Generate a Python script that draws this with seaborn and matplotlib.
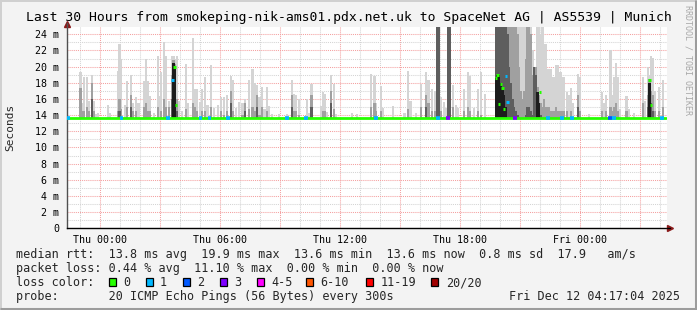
import numpy as np
import pandas as pd
import matplotlib
matplotlib.use("Agg")
import matplotlib.pyplot as plt
import seaborn as sns
from matplotlib.lines import Line2D
from matplotlib.patches import Rectangle
from matplotlib.ticker import MultipleLocator, FuncFormatter

# ---------------- data (hours relative to Thu 00:00, values in ms) ----------------
smoke_h = [-0.98, -0.90, -0.80, -0.65, -0.55, -0.42, -0.32, -0.20, -0.10, 0.38, 0.50, 0.88, 0.97, 1.05,
           1.23, 1.35, 1.55, 1.65, 1.80, 1.92, 2.18, 2.28, 2.37, 2.47, 2.70, 2.88, 2.97, 3.05, 3.18, 3.27,
           3.45, 3.58, 3.67, 3.75, 3.83, 3.95, 4.08, 4.30, 4.40, 4.65, 4.75, 4.85, 5.00, 5.10, 5.25, 5.37,
           5.54, 5.70, 5.88, 6.05, 6.20, 6.33, 6.53, 6.63, 6.78, 6.94, 7.12, 7.25, 7.45, 7.62, 7.73, 7.85,
           7.97, 8.08, 8.22, 8.35, 8.42, 8.60, 8.95, 9.35, 9.58, 9.70, 9.80, 9.93, 10.35, 10.45, 10.57,
           11.03, 11.13, 11.23, 11.33, 11.53, 11.68, 11.80, 12.60, 12.85, 13.55, 13.72, 13.80, 14.03, 14.13,
           14.63, 15.22, 15.40, 15.52, 15.78, 16.04, 16.28, 16.42, 16.58, 16.73, 16.83, 16.92, 17.05, 17.18,
           17.27, 17.40, 17.50, 17.65, 17.80, 17.90, 18.18, 18.38, 18.50, 18.68, 18.88, 19.03, 19.25,
           19.79, 19.87, 19.96, 20.04, 20.12, 20.21, 20.29, 20.37, 20.46, 20.54, 20.62, 20.71, 20.79, 20.87,
           20.96, 21.04, 21.12, 21.21, 21.29, 21.37, 21.46, 21.54, 21.62, 21.71, 21.79, 21.87, 21.96, 22.04,
           22.12, 22.21, 22.29, 22.37, 22.46, 22.54, 22.62, 22.71, 22.79, 22.87, 22.96, 23.04, 23.12, 23.21,
           23.33, 23.42, 23.55, 23.65, 23.90, 24.00, 24.45, 25.10, 25.20, 25.30, 25.52, 25.62, 25.72, 25.80,
           25.90, 26.00, 26.32, 26.42, 26.68, 27.15, 27.25, 27.38, 27.47, 27.55, 27.65, 27.75, 27.93, 28.15]
smoke_top = [19.3, 15.5, 18.7, 18.7, 15.8, 19.0, 15.8, 14.2, 14.3, 15.2, 14.3, 19.5, 22.8, 21.0,
             15.3, 18.2, 19.0, 15.5, 16.3, 15.5, 18.2, 20.9, 18.2, 16.4, 14.3, 21.3, 16.4, 19.3, 23.0, 21.3,
             15.8, 21.3, 21.3, 21.0, 21.3, 15.8, 14.5, 20.3, 15.5, 23.6, 17.2, 17.2, 15.6, 17.2, 18.7, 15.3,
             20.2, 14.9, 15.3, 16.3, 16.3, 16.5, 18.9, 18.4, 14.9, 15.6, 15.5, 16.0, 18.4, 19.7, 18.0, 17.7,
             16.3, 17.5, 14.7, 17.5, 15.1, 14.2, 14.2, 14.2, 18.3, 16.6, 16.5, 16.0, 16.0, 14.3, 17.9,
             15.1, 16.8, 16.6, 14.4, 19.0, 17.8, 14.2, 14.3, 14.2, 19.1, 18.9, 15.5, 17.6, 14.9,
             15.1, 14.3, 19.5, 15.8, 14.3, 17.8, 19.3, 18.4, 17.2, 17.0, 26.0, 26.0, 16.3, 15.6,
             14.9, 26.0, 26.0, 17.7, 15.3, 14.9, 17.2, 19.3, 18.9, 14.9, 17.2, 19.3, 16.6,
             26.0, 26.0, 26.0, 26.0, 26.0, 26.0, 26.0, 26.0, 26.0, 26.0, 26.0, 26.0, 26.0, 26.0,
             26.0, 26.0, 26.0, 26.0, 26.0, 26.0, 26.0, 26.0, 22.0, 19.9, 19.9, 26.0, 26.0, 24.0,
             26.0, 22.8, 22.8, 19.7, 19.7, 19.7, 18.7, 18.7, 20.2, 20.2, 19.3, 19.3, 18.7, 18.7,
             16.8, 16.5, 17.4, 15.5, 19.1, 18.7, 14.2, 16.8, 15.5, 16.5, 22.0, 16.5, 18.7, 20.4,
             18.7, 14.8, 16.4, 14.8, 14.3, 18.7, 15.8, 20.0, 19.0, 21.3, 21.1, 17.0, 17.5, 18.4]
smoke_mid = [17.4, 14.5, 14.5, 15.0, 14.5, 18.0, 14.5, 13.5, 13.5, 13.5, 13.5, 14.5, 16.0, 14.8,
             13.5, 15.0, 16.5, 14.5, 14.5, 13.5, 15.0, 15.5, 14.5, 14.5, 13.5, 15.0, 13.5, 14.5, 16.0, 15.0,
             15.0, 19.0, 20.8, 20.3, 16.0, 13.5, 13.5, 14.8, 13.5, 15.5, 15.0, 14.5, 13.5, 14.5, 14.5, 13.5,
             15.0, 13.5, 13.5, 14.5, 14.0, 14.5, 17.0, 14.5, 13.5, 13.5, 14.0, 15.5, 14.7, 15.0, 14.5, 16.5,
             14.0, 15.0, 13.5, 14.5, 13.5, 13.5, 13.5, 13.5, 16.5, 14.5, 14.5, 14.0, 13.5, 13.5, 16.5,
             13.5, 14.5, 14.5, 13.5, 17.0, 14.8, 13.5, 13.5, 13.5, 15.0, 15.5, 14.5, 14.5, 13.5,
             13.5, 13.5, 14.7, 13.5, 13.5, 15.0, 16.5, 15.5, 14.5, 14.5, 26.0, 26.0, 14.5, 13.5,
             13.5, 26.0, 26.0, 15.0, 13.5, 13.5, 14.5, 15.0, 14.5, 13.5, 14.5, 14.0, 13.5,
             26.0, 26.0, 26.0, 26.0, 26.0, 26.0, 26.0, 26.0, 26.0, 26.0, 26.0, 26.0, 26.0, 24.0,
             20.0, 17.0, 16.0, 17.0, 21.0, 26.0, 26.0, 24.0, 19.0, 19.9, 19.9, 17.5, 16.5, 15.5,
             15.0, 16.0, 15.0, 15.0, 15.0, 14.5, 14.5, 14.5, 15.0, 14.5, 14.5, 14.5, 14.5, 14.5,
             14.5, 13.5, 14.5, 13.5, 16.5, 14.5, 13.5, 14.5, 13.5, 14.5, 15.0, 14.5, 15.0, 15.5,
             14.5, 13.5, 14.5, 13.5, 13.5, 15.5, 13.5, 16.5, 18.5, 17.0, 16.5, 14.5, 14.5, 15.0]
smoke_core = [13.5, 13.5, 13.5, 13.5, 13.5, 16.0, 13.5, 13.5, 13.5, 13.5, 13.5, 13.5, 14.5, 13.5,
              13.5, 13.5, 15.0, 13.5, 13.5, 13.5, 13.5, 13.5, 13.5, 13.5, 13.5, 13.5, 13.5, 13.5, 13.5, 13.5,
              13.5, 16.0, 20.5, 20.0, 14.5, 13.5, 13.5, 13.5, 13.5, 13.5, 13.5, 13.5, 13.5, 13.5, 13.5, 13.5,
              13.5, 13.5, 13.5, 13.5, 13.5, 13.5, 15.5, 13.5, 13.5, 13.5, 13.5, 14.5, 13.5, 13.5, 13.5, 15.0,
              13.5, 13.5, 13.5, 13.5, 13.5, 13.5, 13.5, 13.5, 15.0, 13.5, 13.5, 13.5, 13.5, 13.5, 15.0,
              13.5, 13.5, 13.5, 13.5, 15.5, 13.5, 13.5, 13.5, 13.5, 13.5, 13.5, 13.5, 13.5, 13.5,
              13.5, 13.5, 13.5, 13.5, 13.5, 13.5, 15.0, 13.5, 13.5, 13.5, 26.0, 26.0, 13.5, 13.5,
              13.5, 26.0, 26.0, 13.5, 13.5, 13.5, 13.5, 13.5, 13.5, 13.5, 13.5, 13.5, 13.5,
              26.0, 26.0, 26.0, 26.0, 26.0, 26.0, 26.0, 24.0, 20.0, 18.0, 16.0, 15.0, 14.5, 14.0,
              13.5, 13.5, 13.5, 13.5, 14.0, 15.0, 15.0, 14.5, 14.0, 19.9, 19.0, 16.8, 15.5, 14.0,
              13.5, 13.5, 13.5, 13.5, 13.5, 13.5, 13.5, 13.5, 13.5, 13.5, 13.5, 13.5, 13.5, 13.5,
              13.5, 13.5, 13.5, 13.5, 15.0, 13.5, 13.5, 13.5, 13.5, 13.5, 13.5, 13.5, 13.5, 13.5,
              13.5, 13.5, 13.5, 13.5, 13.5, 13.5, 13.5, 15.0, 18.0, 15.5, 14.5, 13.5, 13.5, 13.5]
black_h = [3.67, 3.75, 19.79, 19.87, 19.96, 20.04, 20.12, 20.21, 20.29, 21.87, 21.96, 27.47]
black_top = [20.5, 20.0, 18.6, 19.0, 19.0, 18.0, 17.5, 16.5, 15.0, 16.8, 15.5, 18.0]
smoke_base = 13.5

median_span_h = [-1.65, 28.30]
median_base = [13.7, 13.7]
med_h = [3.63, 3.72, 3.80, 19.79, 19.87, 19.96, 20.04, 20.12, 20.21, 20.29, 20.37, 22.00, 27.47, 27.55]
med_ms = [18.4, 19.9, 15.2, 18.6, 19.0, 15.4, 17.9, 17.4, 14.7, 18.9, 15.6, 16.9, 18.4, 15.3]
med_loss = [1, 0, 0, 0, 0, 0, 0, 0, 0, 1, 1, 0, 0, 0]
loss_h = [-1.60, 1.08, 3.40, 5.03, 5.47, 6.40, 9.35, 10.30, 13.80, 16.90, 17.40, 20.75, 22.40,
          23.10, 23.60, 25.50, 25.70, 28.10]
loss_n = [1, 1, 1, 1, 1, 1, 1, 1, 1, 1, 3, 3, 1, 1, 1, 2, 1, 1]

x_tick_h = [0, 6, 12, 18, 24]
x_tick_labels = ["Thu 00:00", "Thu 06:00", "Thu 12:00", "Thu 18:00", "Fri 00:00"]
loss_labels = ["0", "1", "2", "3", "4-5", "6-10", "11-19", "20/20"]
loss_colors = ["#26ff00", "#00b8ff", "#0059ff", "#7e00ff", "#ff00ff", "#ff5500", "#ff0000", "#a10000"]

title = "Last 30 Hours from smokeping-nik-ams01.pdx.net.uk to SpaceNet AG | AS5539 | Munich"
line_rtt = "median rtt:  13.8 ms avg  19.9 ms max  13.6 ms min  13.6 ms now  0.8 ms sd  17.9   am/s"
line_loss = "packet loss: 0.44 % avg  11.10 % max  0.00 % min  0.00 % now"
probe_txt = "probe:       20 ICMP Echo Pings (56 Bytes) every 300s"
date_txt = "Fri Dec 12 04:17:04 2025"


def loss_color(n):
    if n <= 3:
        return loss_colors[n]
    if n <= 5:
        return loss_colors[4]
    if n <= 10:
        return loss_colors[5]
    if n <= 19:
        return loss_colors[6]
    return loss_colors[7]


# ---------------- figure ----------------
sns.set_style("white")
plt.rcParams["font.family"] = ["DejaVu Sans Mono"]

W, H = 697, 310
fig = plt.figure(figsize=(W / 100, H / 100), dpi=100, facecolor="#f3f3f3")
ax_l, ax_r, ax_t, ax_b = 67, 667, 27, 228.3
ax = fig.add_axes([ax_l / W, 1 - ax_b / H, (ax_r - ax_l) / W, (ax_b - ax_t) / H])
ax.set_facecolor("white")

XMIN, XMAX, YMIN, YMAX = -1.65, 28.35, 0, 24.9
ax.set_xlim(XMIN, XMAX)
ax.set_ylim(YMIN, YMAX)

# grid
ax.xaxis.set_major_locator(MultipleLocator(3))
ax.xaxis.set_minor_locator(MultipleLocator(1))
ax.yaxis.set_major_locator(MultipleLocator(2))
ax.yaxis.set_minor_locator(MultipleLocator(1))
ax.grid(which="minor", color="#d4d4d4", ls=(0, (1, 1)), lw=0.75, zorder=0)
ax.grid(which="major", color="#f4a0a0", ls=(0, (1, 1)), lw=0.75, zorder=0)
ax.set_axisbelow(True)

# smoke
df = pd.DataFrame({"h": smoke_h, "top": smoke_top, "mid": smoke_mid, "core": smoke_core})
bw = 0.11
ax.bar(df["h"], df["top"] - smoke_base, bottom=smoke_base, width=bw, color="#d4d4d4", lw=0, zorder=2)
ax.bar(df["h"], df["mid"] - smoke_base, bottom=smoke_base, width=bw, color="#a0a0a0", lw=0, zorder=3)
ax.bar(df["h"], df["core"] - smoke_base, bottom=smoke_base, width=bw, color="#5e5e5e", lw=0, zorder=4)
ax.bar(black_h, np.array(black_top) - smoke_base, bottom=smoke_base, width=bw, color="#1c1c1c", lw=0, zorder=5)

# median line
sns.lineplot(x=median_span_h, y=median_base, color=loss_colors[0], lw=2.0, ax=ax, zorder=6, legend=False)
ax.hlines(med_ms, np.array(med_h) - 0.06, np.array(med_h) + 0.06,
          colors=[loss_color(n) for n in med_loss], lw=2.2, zorder=7)
ax.hlines([median_base[0]] * len(loss_h), np.array(loss_h) - 0.09, np.array(loss_h) + 0.09,
          colors=[loss_color(n) for n in loss_n], lw=2.6, zorder=7)

# spines / ticks
for s in ["top", "right"]:
    ax.spines[s].set_visible(False)
ax.spines["left"].set_color("#505050")
ax.spines["bottom"].set_color("#000000")
ax.spines["left"].set_linewidth(1.0)
ax.spines["bottom"].set_linewidth(1.0)

ax.xaxis.set_major_formatter(FuncFormatter(
    lambda v, p: x_tick_labels[x_tick_h.index(int(round(v)))] if int(round(v)) in x_tick_h else ""))
ax.yaxis.set_major_formatter(FuncFormatter(lambda v, p: "0" if abs(v) < 1e-9 else f"{int(round(v))} m"))
ax.tick_params(axis="x", which="major", length=2, width=0.75, color="#f08080", pad=2.5,
               labelsize=7.2, labelcolor="#000000")
ax.tick_params(axis="y", which="major", length=2, width=0.75, color="#f08080", pad=3.6,
               labelsize=7.2, labelcolor="#000000")
ax.tick_params(which="minor", length=0)

# arrows
fig.add_artist(Line2D([ax_l / W], [1 - 23.5 / H], marker="^", ms=5, color="#8b1a1a", ls="none",
                      transform=fig.transFigure))
fig.add_artist(Line2D([670 / W], [1 - ax_b / H], marker=">", ms=5, color="#8b1a1a", ls="none",
                      transform=fig.transFigure))
fig.add_artist(Line2D([ax_l / W, ax_l / W], [1 - ax_t / H, 1 - 23 / H], color="#505050", lw=1.0,
                      transform=fig.transFigure))
fig.add_artist(Line2D([ax_r / W, 670 / W], [1 - ax_b / H, 1 - ax_b / H], color="#000000", lw=1.0,
                      transform=fig.transFigure))

# texts
fs_leg = 8.48
fig.text(0.5, 1 - 18 / H, title, ha="center", va="center", fontsize=9.45, color="#000000")
fig.text(10 / W, 1 - 127.5 / H, "Seconds", rotation=90, ha="center", va="center", fontsize=8.0)
fig.text(688 / W, 1 - 60 / H, "RRDTOOL / TOBI OETIKER", rotation=270, ha="center", va="center",
         fontsize=6.0, color="#a8a8a8")
fig.text(16 / W, 1 - 258 / H, line_rtt, ha="left", va="baseline", fontsize=fs_leg)
fig.text(16 / W, 1 - 272 / H, line_loss, ha="left", va="baseline", fontsize=fs_leg)
fig.text(16 / W, 1 - 286 / H, "loss color:", ha="left", va="baseline", fontsize=fs_leg)
fig.text(16 / W, 1 - 300 / H, probe_txt, ha="left", va="baseline", fontsize=fs_leg)
fig.text(680 / W, 1 - 300 / H, date_txt, ha="right", va="baseline", fontsize=fs_leg)

box_x = [109, 145.7, 182.7, 219.7, 256.7, 306, 365.7, 430.7]
lab_x = [123.3, 160, 197.3, 234, 271, 320, 380.7, 445.7]
for bx, lx, lab, col in zip(box_x, lab_x, loss_labels, loss_colors):
    fig.add_artist(Rectangle((bx / W, 1 - 286 / H), 7 / W, 7.7 / H, transform=fig.transFigure,
                             facecolor=col, edgecolor="#000000", lw=0.9))
    fig.text(lx / W, 1 - 286 / H, lab, ha="left", va="baseline", fontsize=fs_leg)

# outer frame (3d look)
def fline(x0, y0, x1, y1, c, lw):
    fig.add_artist(Line2D([x0 / W, x1 / W], [1 - y0 / H, 1 - y1 / H], color=c, lw=lw,
                          transform=fig.transFigure, solid_capstyle="butt"))

fline(0, 0.7, W, 0.7, "#d0d0d0", 1.4)
fline(0.7, 0, 0.7, H, "#d0d0d0", 1.4)
fline(W - 1.5, 0, W - 1.5, H, "#9c9c9c", 2.2)
fline(0, H - 1.5, W, H - 1.5, "#9c9c9c", 2.2)

fig.savefig("out.png", dpi=100, facecolor=fig.get_facecolor())
